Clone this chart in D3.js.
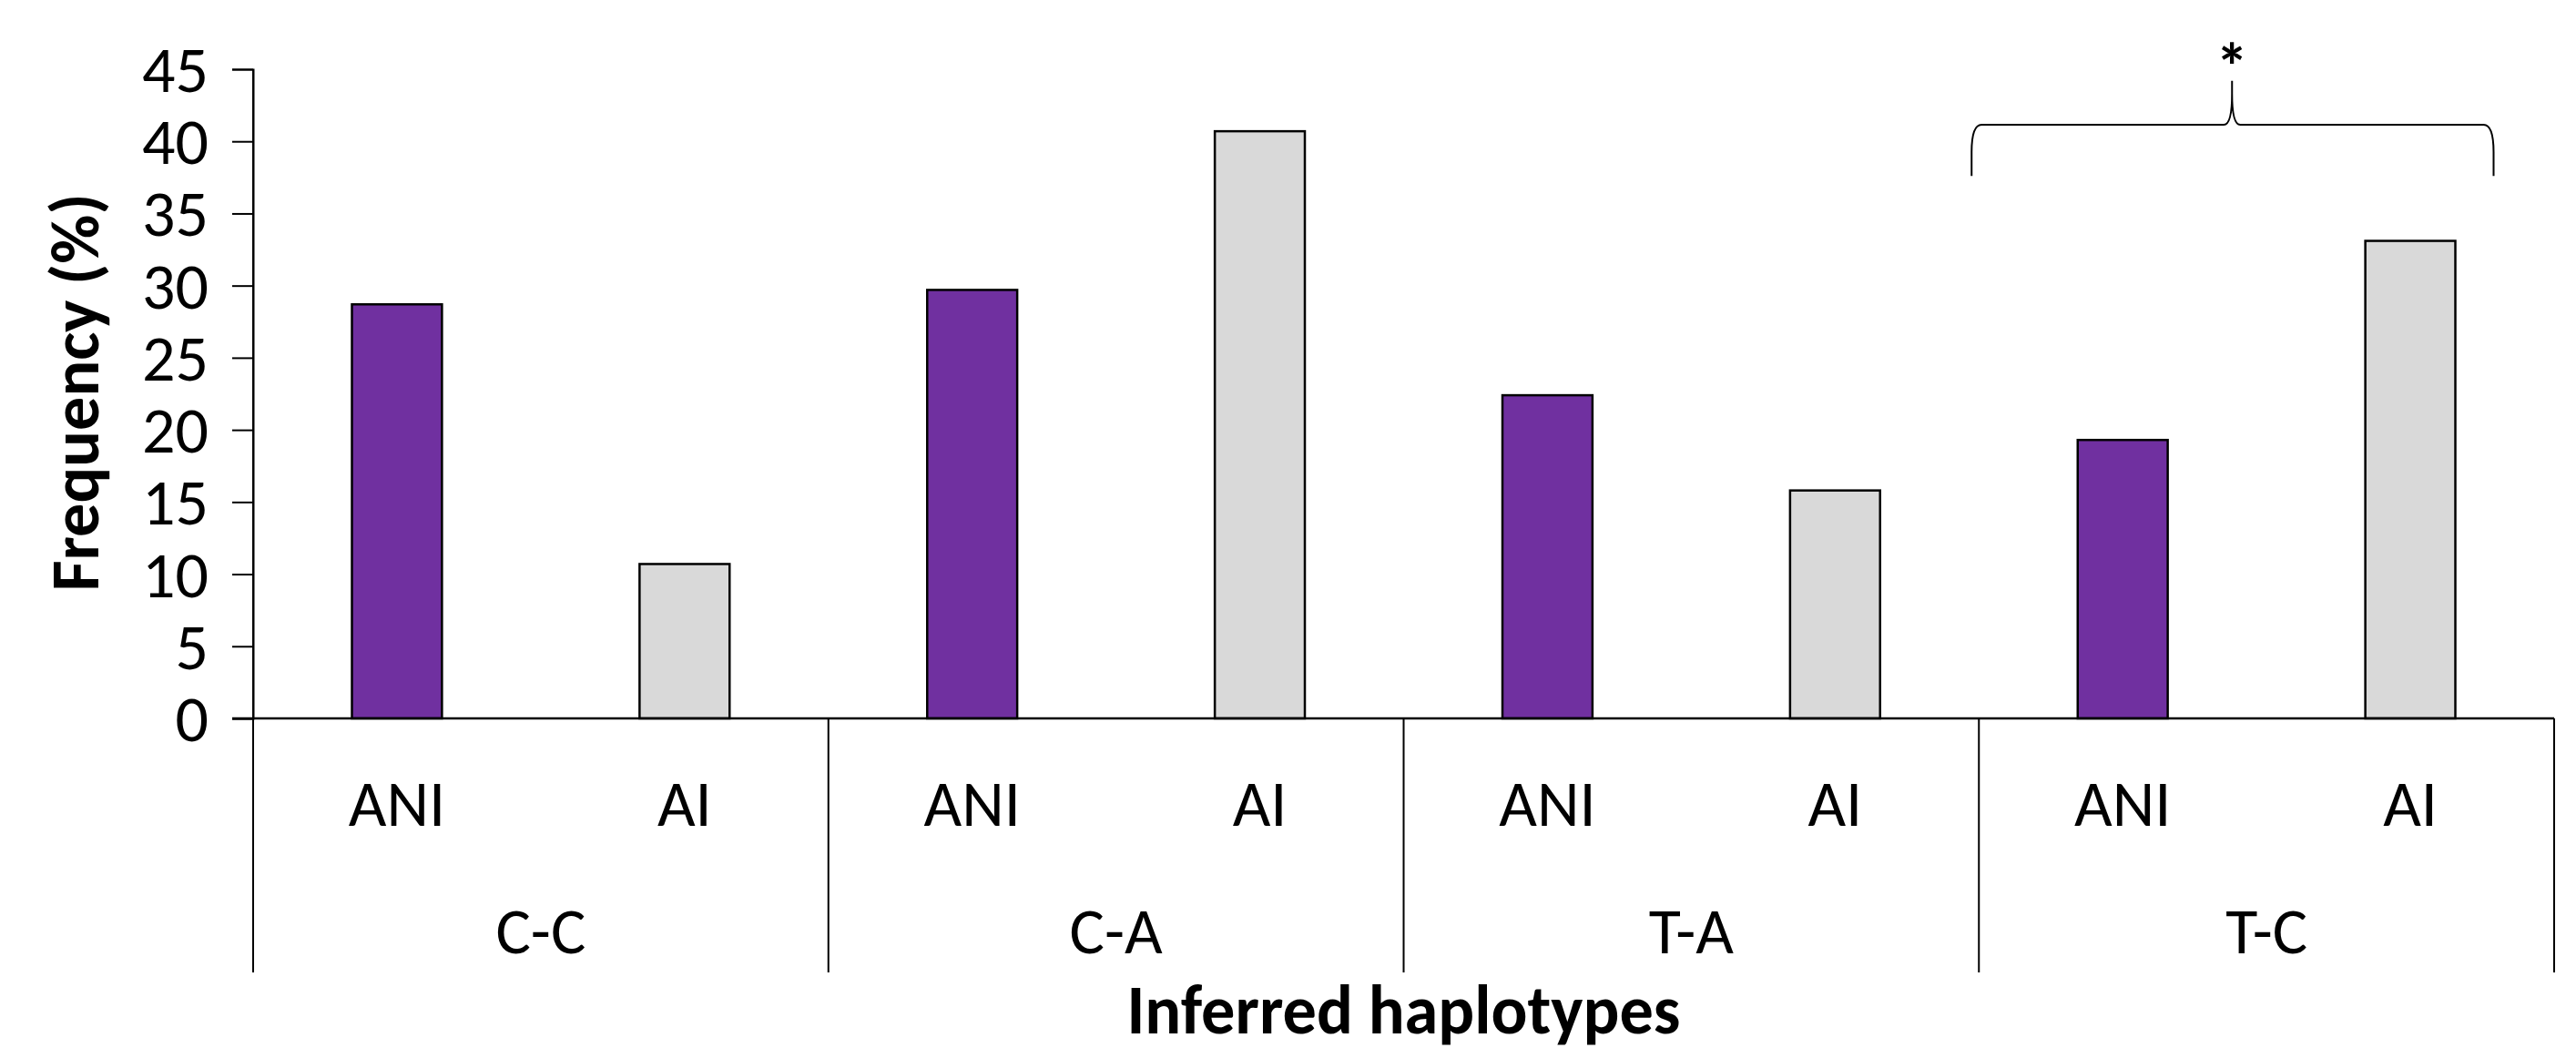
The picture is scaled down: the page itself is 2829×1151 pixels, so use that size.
<!DOCTYPE html>
<html>
<head>
<meta charset="utf-8">
<script src="https://cdn.jsdelivr.net/npm/d3@7"></script>
<style>
  html, body { margin: 0; padding: 0; background: #fff; }
  svg { display: block; }
  text { font-family: Carlito, Calibri, Lato, sans-serif; fill: #000; }
</style>
</head>
<body>
<svg id="chart" width="2829" height="1151"></svg>
<script>
// ---- data ----
const categories = ["C-C", "C-A", "T-A", "T-C"];
const groups = ["ANI", "AI"];
const aniValues = [28.7, 29.7, 22.4, 19.3];
const aiValues = [10.7, 40.7, 15.8, 33.1];
const yTicks = [0, 5, 10, 15, 20, 25, 30, 35, 40, 45];
const colors = { ANI: "#7030A0", AI: "#D9D9D9" };
const yTitle = "Frequency (%)";
const xTitle = "Inferred haplotypes";
const sigMark = "*";
const sigCategory = "T-C";

// ---- layout ----
const plotLeft = 278, plotRight = 2805, plotTop = 76, plotBase = 789, sepBottom = 1068;

const svg = d3.select("#chart");

const x = d3.scaleBand().domain(categories).range([plotLeft, plotRight]).padding(0);
const xi = d3.scaleBand().domain(groups).range([0, x.bandwidth()])
  .paddingInner(0.687).paddingOuter(0.3435);
const y = d3.scaleLinear().domain([0, 45]).range([plotBase, plotTop]);

const rows = [];
categories.forEach((c, i) => {
  rows.push({ cat: c, grp: "ANI", v: aniValues[i] });
  rows.push({ cat: c, grp: "AI", v: aiValues[i] });
});

// bars
svg.append("g").selectAll("rect").data(rows).join("rect")
  .attr("x", d => x(d.cat) + xi(d.grp))
  .attr("y", d => y(d.v))
  .attr("width", xi.bandwidth())
  .attr("height", d => plotBase - y(d.v))
  .attr("fill", d => colors[d.grp])
  .attr("stroke", "#000")
  .attr("stroke-width", 2.5);

// y axis
const yAxis = svg.append("g")
  .attr("transform", `translate(${plotLeft},0)`)
  .call(d3.axisLeft(y).tickValues(yTicks).tickSize(23).tickPadding(26).tickFormat(d3.format("d")));
yAxis.select(".domain").attr("stroke", "#000").attr("stroke-width", 2);
yAxis.selectAll(".tick line").attr("stroke", "#000").attr("stroke-width", 2);
yAxis.selectAll(".tick text").attr("font-size", 72)
  .attr("font-family", "Carlito, Calibri, Lato, sans-serif").attr("fill", "#000")
  .attr("dy", "0.34em");

// x baseline
svg.append("line").attr("x1", plotLeft - 23).attr("x2", plotRight)
  .attr("y1", plotBase).attr("y2", plotBase).attr("stroke", "#000").attr("stroke-width", 2.5);

// group separators
const seps = categories.map(c => x(c)).concat([x(categories[categories.length - 1]) + x.bandwidth()]);
svg.append("g").selectAll("line").data(seps).join("line")
  .attr("x1", d => d).attr("x2", d => d)
  .attr("y1", (d, i) => i === 0 ? plotTop : plotBase)
  .attr("y2", sepBottom)
  .attr("stroke", "#000").attr("stroke-width", 2);

// inner labels
svg.append("g").selectAll("text").data(rows).join("text")
  .attr("x", d => x(d.cat) + xi(d.grp) + xi.bandwidth() / 2)
  .attr("y", 907)
  .attr("text-anchor", "middle")
  .attr("font-size", 72)
  .text(d => d.grp);

// category labels
svg.append("g").selectAll("text").data(categories).join("text")
  .attr("x", d => x(d) + x.bandwidth() / 2)
  .attr("y", 1047)
  .attr("text-anchor", "middle")
  .attr("font-size", 72)
  .text(d => d);

// axis titles
svg.append("text")
  .attr("transform", `translate(108,431) rotate(-90)`)
  .attr("text-anchor", "middle")
  .attr("font-size", 74).attr("font-weight", "bold")
  .attr("textLength", 437).attr("lengthAdjust", "spacingAndGlyphs")
  .text(yTitle);
svg.append("text")
  .attr("x", (plotLeft + plotRight) / 2).attr("y", 1135)
  .attr("text-anchor", "middle")
  .attr("font-size", 76).attr("font-weight", "bold")
  .attr("textLength", 608).attr("lengthAdjust", "spacingAndGlyphs")
  .text(xTitle);

// significance brace over T-C group
const gx = x(sigCategory);
const bl = gx - 8;
const br = gx + xi("AI") + xi.bandwidth() + 42;
const bm = gx + 278;
const yh = y(41.15), yEnd = y(37.6), yPeak = y(44.2);
const bracePath = [
  `M${bl},${yEnd}`,
  `L${bl},${yh + 30}`,
  `Q${bl},${yh} ${bl + 11},${yh}`,
  `L${bm - 9},${yh}`,
  `Q${bm},${yh} ${bm},${yh - 34}`,
  `L${bm},${yPeak}`,
  `M${bm},${yh - 34}`,
  `Q${bm},${yh} ${bm + 9},${yh}`,
  `L${br - 11},${yh}`,
  `Q${br},${yh} ${br},${yh + 30}`,
  `L${br},${yEnd}`
].join(" ");
svg.append("path").attr("d", bracePath).attr("fill", "none")
  .attr("stroke", "#000").attr("stroke-width", 2);
svg.append("text")
  .attr("x", bm).attr("y", yPeak + 10)
  .attr("text-anchor", "middle")
  .attr("font-size", 72).attr("font-weight", "bold")
  .text(sigMark);
</script>
</body>
</html>
